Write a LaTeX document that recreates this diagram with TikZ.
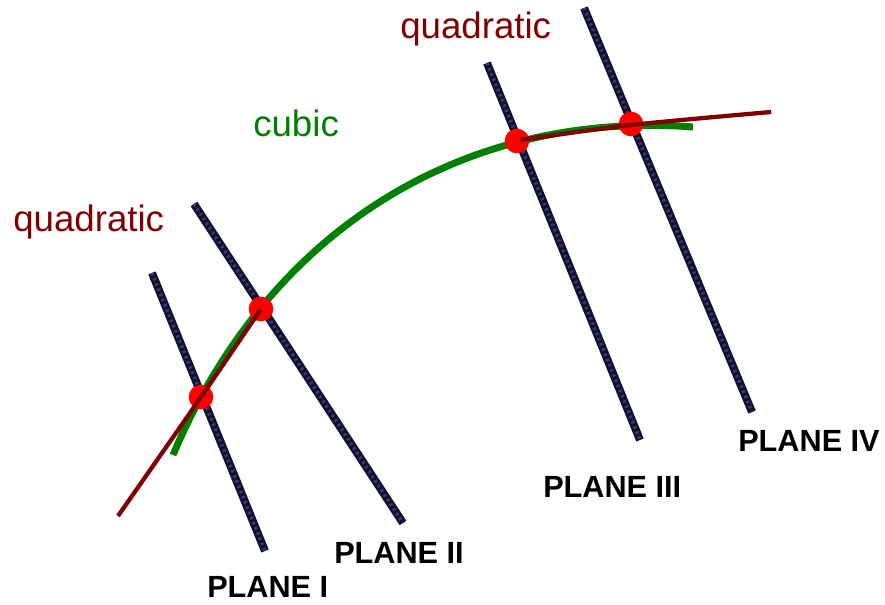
\documentclass[tikz,border=0pt]{standalone}
\usepackage{fontspec}
\setmainfont{Liberation Sans}
\begin{document}
\begin{tikzpicture}[x=0.75pt,y=-0.75pt,
  planeline/.style={line width=6pt,color=planedark,line cap=butt},
  planedots/.style={line width=2.6pt,color=planeblue,dash pattern=on 1.8pt off 2.4pt},
  quadline/.style={line width=3.2pt,color=quadred},
  cubicline/.style={line width=5.2pt,color=cubicgreen},
  dot/.style={circle,fill=red,minimum size=18.5pt,inner sep=0pt},
  lbl/.style={inner sep=0pt,anchor=base west,font=\fontsize{27.5pt}{30pt}\selectfont},
  plbl/.style={inner sep=0pt,anchor=base west,font=\fontsize{23pt}{26pt}\selectfont\bfseries}]
\definecolor{planedark}{RGB}{18,18,40}
\definecolor{planeblue}{RGB}{55,55,135}
\definecolor{quadred}{RGB}{128,0,0}
\definecolor{cubicgreen}{RGB}{0,128,0}
\useasboundingbox (0,0) rectangle (885,605);
% planes
\coordinate (p1a) at (152,273); \coordinate (p1b) at (265,551);
\coordinate (p2a) at (194,204); \coordinate (p2b) at (403,523);
\coordinate (p3a) at (487,63);  \coordinate (p3b) at (640,440);
\coordinate (p4a) at (584,8);   \coordinate (p4b) at (752,412);
\foreach \a/\b in {p1a/p1b,p2a/p2b,p3a/p3b,p4a/p4b}{
  \draw[planeline] (\a) -- (\b);
  \draw[planedots] (\a) -- (\b);
}
% cubic
\coordinate (cs) at (173,455);
\coordinate (ce) at (693,127);
\draw[cubicline] (cs) .. controls (268,230) and (463,110) .. (ce);
% intersection dots
\node[dot] (d1) at (201,397) {};
\node[dot] (d2) at (261,309) {};
\node[dot] (d3) at (517,141) {};
\node[dot] (d4) at (631,124) {};
% quadratics
\draw[quadline] plot[smooth] coordinates {(118,516) (201,397) (261,309)};
\draw[quadline] plot[smooth] coordinates {(520,140) (631,125) (771,112)};
% labels
\node[lbl,text=quadred] (q1) at (13,232) {quadratic};
\node[lbl,text=cubicgreen] (cb) at (253,137) {cubic};
\node[lbl,text=quadred] (q2) at (400,39) {quadratic};
\node[plbl] (l1) at (207,597) {PLANE I};
\node[plbl] (l2) at (334,563) {PLANE II};
\node[plbl] (l3) at (543,498) {PLANE III};
\node[plbl] (l4) at (738,452) {PLANE IV};
\end{tikzpicture}
\end{document}
